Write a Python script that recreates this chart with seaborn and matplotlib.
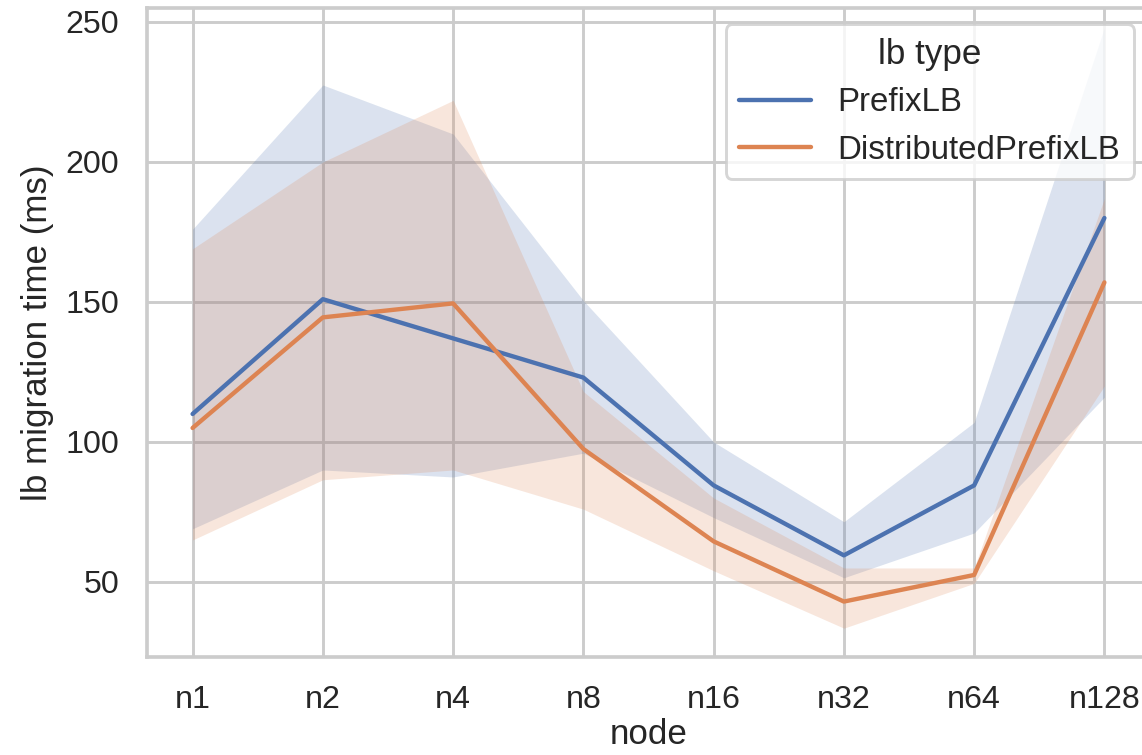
import matplotlib
matplotlib.use("Agg")
import matplotlib.pyplot as plt
import seaborn as sns
import pandas as pd
import numpy as np

nodes = ["n1", "n2", "n4", "n8", "n16", "n32", "n64", "n128"]
lb_types = ["PrefixLB", "DistributedPrefixLB"]

prefix_mean = [110, 151, 137, 123, 84.5, 59.5, 84.5, 180]
prefix_lo = [69, 90, 87.5, 96, 73, 51.5, 67.5, 116]
prefix_hi = [176, 227.5, 210, 150.5, 100, 71.5, 107, 248]

dist_mean = [105, 144.5, 149.5, 97.5, 64.5, 43, 52.5, 157]
dist_lo = [65, 86.5, 90, 76, 54, 33.5, 49.5, 120]
dist_hi = [169, 200, 222, 118, 80, 55, 55, 187]

sns.set_theme(style="whitegrid")
plt.rcParams["font.family"] = ["Liberation Sans", "DejaVu Sans"]

DPI = 210
fig = plt.figure(figsize=(1142 / DPI, 755 / DPI), dpi=DPI)
W, H = 1142, 755
left, right, top, bottom = 147, 1150, 8, 657
ax = fig.add_axes([left / W, (H - bottom) / H, (right - left) / W, (bottom - top) / H])

df = pd.DataFrame({
    "node": nodes * 2,
    "lb migration time (ms)": prefix_mean + dist_mean,
    "lb type": [lb_types[0]] * len(nodes) + [lb_types[1]] * len(nodes),
})

palette = sns.color_palette()[:2]
x = np.arange(len(nodes))
for lo, hi, c in [(prefix_lo, prefix_hi, palette[0]), (dist_lo, dist_hi, palette[1])]:
    ax.fill_between(x, lo, hi, color=c, alpha=0.2, linewidth=0)

sns.lineplot(data=df, x="node", y="lb migration time (ms)", hue="lb type",
             hue_order=lb_types, palette=palette, errorbar=None, ax=ax, sort=False)

ax.set_xlim(-0.35, 7.35)
ax.set_ylim(23.2, 255)
ax.set_yticks([50, 100, 150, 200, 250])
ax.set_xlabel("node", labelpad=1.0)
leg = ax.legend(title="lb type", loc="upper right", fontsize=11.3, handlelength=2.2)

fig.savefig("out.png", dpi=DPI)
